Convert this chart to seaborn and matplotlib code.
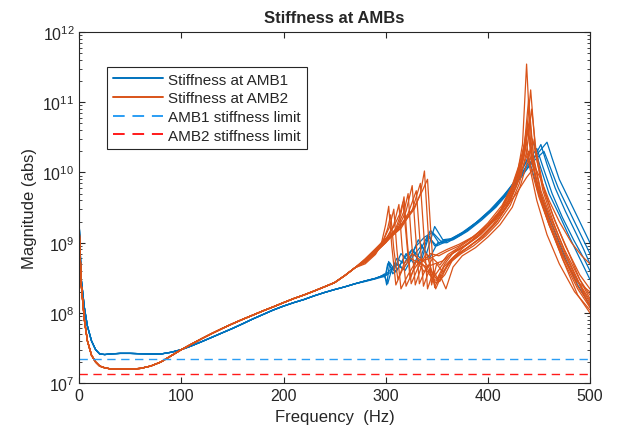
import seaborn as sns
import matplotlib.pyplot as plt

# shared low-frequency part (Hz) and magnitudes
BASE_F = [0, 2, 5, 8, 12, 16, 20, 25, 30, 40, 50, 60, 70, 80, 90, 100, 110, 120, 130, 140,
          150, 160, 170, 180, 190, 200, 210, 220, 230, 240, 250, 260, 270]
AMB1_BASE = [1.8e9, 3e8, 1.2e8, 6.5e7, 4e7, 3e7, 2.6e7, 2.55e7, 2.6e7, 2.65e7, 2.65e7, 2.62e7,
             2.6e7, 2.6e7, 2.75e7, 3.0e7, 3.4e7, 3.9e7, 4.5e7, 5.2e7, 6.0e7, 7.0e7, 8.2e7,
             9.5e7, 1.1e8, 1.25e8, 1.4e8, 1.55e8, 1.75e8, 1.95e8, 2.15e8, 2.35e8, 2.6e8]
AMB2_BASE = [1.5e9, 2.5e8, 8e7, 4e7, 2.5e7, 2e7, 1.75e7, 1.65e7, 1.6e7, 1.58e7, 1.58e7, 1.62e7,
             1.75e7, 2.0e7, 2.45e7, 3.0e7, 3.6e7, 4.3e7, 5.1e7, 6.0e7, 7.0e7, 8.1e7, 9.3e7,
             1.07e8, 1.22e8, 1.4e8, 1.6e8, 1.8e8, 2.05e8, 2.35e8, 2.7e8, 3.4e8, 4.4e8]

# AMB1 runs above 270 Hz
B1_F = [280, 290, 295, 299, 301, 304, 310, 318, 326, 334, 342, 350, 360, 375, 390, 405, 420, 432, 440, 445, 450, 460, 470, 480, 490, 500]
B1_K = [2.85e8, 3.1e8, 3.3e8, 3.6e8, 2.5e8, 5.2e8, 3.8e8, 6e8, 8e8, 5e8, 1.2e9, 9e8, 1.05e9, 1.4e9, 2.0e9, 3.1e9, 5.5e9, 1.0e10, 1.7e10, 2.7e10, 1.4e10, 5e9, 2.5e9, 1.2e9, 6e8, 3e8]
B2_F = [280, 290, 295, 300, 303, 307, 313, 320, 328, 336, 344, 352, 362, 376, 390, 405, 420, 434, 444, 452, 458, 466, 476, 486, 494, 500]
B2_K = [2.85e8, 3.1e8, 3.3e8, 3.4e8, 5.4e8, 3.6e8, 4.5e8, 7e8, 5e8, 9e8, 1.5e9, 1e9, 1.1e9, 1.4e9, 2e9, 3e9, 5.2e9, 9e9, 1.5e10, 2.5e10, 1.3e10, 6e9, 2.8e9, 1.4e9, 8e8, 5e8]
B3_F = [280, 290, 295, 300, 304, 310, 317, 324, 332, 340, 348, 356, 366, 380, 394, 408, 422, 436, 448, 458, 463, 470, 480, 490, 500]
B3_K = [2.85e8, 3.1e8, 3.3e8, 3.5e8, 4e8, 5e8, 4.2e8, 6e8, 1.1e9, 7e8, 1.7e9, 1.1e9, 1.15e9, 1.5e9, 2.2e9, 3.4e9, 6e9, 1.1e10, 1.8e10, 2.7e10, 1.6e10, 8e9, 4e9, 2e9, 1e9]
B4_F = [280, 290, 295, 299, 302, 306, 312, 319, 327, 335, 343, 351, 360, 374, 388, 402, 416, 428, 435, 440, 446, 455, 465, 476, 488, 500]
B4_K = [2.8e8, 3.05e8, 3.2e8, 3.3e8, 2.6e8, 4.2e8, 5e8, 4e8, 6.5e8, 9e8, 6e8, 1e9, 1.0e9, 1.3e9, 1.9e9, 2.9e9, 4.8e9, 8e9, 1.2e10, 1.6e10, 8e9, 3.5e9, 1.5e9, 6e8, 2.5e8, 1.3e8]
B5_F = [280, 290, 295, 300, 305, 311, 318, 326, 334, 342, 348, 356, 366, 380, 394, 408, 422, 434, 442, 448, 454, 463, 473, 484, 494, 500]
B5_K = [2.85e8, 3.1e8, 3.3e8, 3.4e8, 3.8e8, 6e8, 5e8, 8e8, 6e8, 1.3e9, 9e8, 1.05e9, 1.1e9, 1.45e9, 2.1e9, 3.2e9, 5.5e9, 1e10, 1.6e10, 2.2e10, 1.2e10, 5e9, 2.3e9, 1.1e9, 6e8, 4e8]
B6_F = [280, 290, 295, 300, 302, 308, 315, 322, 330, 338, 346, 354, 364, 378, 392, 406, 420, 434, 446, 455, 461, 469, 479, 489, 500]
B6_K = [2.85e8, 3.1e8, 3.3e8, 3.5e8, 5e8, 4e8, 7e8, 5.5e8, 9e8, 1.2e9, 1.4e9, 1.05e9, 1.1e9, 1.45e9, 2.1e9, 3.2e9, 5.5e9, 9.5e9, 1.5e10, 2e10, 1.2e10, 6e9, 3e9, 1.5e9, 7e8]

# AMB2 runs above 270 Hz
O1_F = [280, 290, 296, 300, 303, 306, 310, 316, 324, 334, 344, 352, 360, 372, 385, 400, 415, 425, 432, 437, 442, 450, 460, 475, 490, 500]
O1_K = [5.2e8, 7.0e8, 1.0e9, 1.8e9, 3.3e9, 9e8, 2.5e8, 4e8, 6e8, 5e8, 7e8, 6.5e8, 7.5e8, 9e8, 1.2e9, 1.8e9, 3.2e9, 6e9, 1.2e10, 3.0e10, 1.2e10, 4.5e9, 1.8e9, 6e8, 2.5e8, 1.4e8]
O2_F = [280, 290, 298, 304, 308, 311, 315, 322, 330, 340, 348, 356, 365, 378, 390, 405, 418, 428, 435, 440, 445, 452, 462, 475, 490, 500]
O2_K = [5.5e8, 7.5e8, 1.1e9, 1.7e9, 3.0e9, 8e8, 2.2e8, 3.5e8, 5.5e8, 4.5e8, 5e8, 5.5e8, 7e8, 9e8, 1.2e9, 2e9, 3.5e9, 7e9, 1.8e10, 1.1e11, 1.5e10, 5e9, 2e9, 7e8, 2.5e8, 1.2e8]
O3_F = [280, 290, 300, 308, 313, 316, 320, 327, 335, 342, 350, 358, 367, 380, 393, 407, 420, 428, 434, 438, 442, 448, 458, 470, 485, 500]
O3_K = [5.6e8, 7.8e8, 1.1e9, 1.8e9, 3.5e9, 9e8, 2.4e8, 4e8, 6e8, 4.5e8, 3e8, 5e8, 7.5e8, 9.5e8, 1.3e9, 2.1e9, 4e9, 8e9, 2.5e10, 3.5e11, 2.5e10, 6e9, 2.2e9, 8e8, 3e8, 2e8]
O4_F = [280, 290, 300, 310, 315, 318, 321, 325, 332, 340, 347, 354, 362, 372, 385, 398, 412, 424, 432, 437, 441, 445, 452, 462, 475, 490, 500]
O4_K = [5.3e8, 7.2e8, 1.0e9, 1.6e9, 2.6e9, 4.5e9, 1.1e9, 2.6e8, 4.5e8, 7e8, 3.2e8, 4.5e8, 6.5e8, 8e8, 1.1e9, 1.6e9, 2.8e9, 6e9, 1.3e10, 2.5e10, 6e10, 1.6e10, 5.5e9, 2.2e9, 8e8, 3e8, 1.6e8]
O5_F = [280, 290, 300, 310, 318, 322, 325, 329, 336, 343, 350, 357, 365, 376, 388, 400, 413, 423, 430, 436, 441, 448, 458, 470, 485, 500]
O5_K = [5.4e8, 7.4e8, 1.0e9, 1.5e9, 2.8e9, 5e9, 1.2e9, 2.5e8, 5e8, 3.5e8, 2.6e8, 4.5e8, 6e8, 8.5e8, 1.2e9, 1.7e9, 3e9, 6e9, 1.2e10, 2.5e10, 1.2e10, 4e9, 1.3e9, 5e8, 2e8, 1.1e8]
O6_F = [280, 290, 300, 312, 320, 326, 329, 333, 340, 347, 353, 360, 368, 380, 392, 405, 418, 428, 436, 442, 447, 454, 464, 476, 490, 500]
O6_K = [5.6e8, 7.6e8, 1.05e9, 1.6e9, 2.8e9, 6.5e9, 1.5e9, 2.6e8, 4.5e8, 3e8, 2.8e8, 4.6e8, 6.5e8, 8.5e8, 1.15e9, 1.8e9, 3.3e9, 6.5e9, 1.8e10, 1.5e11, 1.8e10, 5.5e9, 2e9, 7e8, 2.6e8, 1.5e8]
O7_F = [280, 290, 300, 312, 322, 330, 333, 337, 343, 349, 355, 362, 370, 382, 395, 408, 420, 429, 435, 439, 443, 450, 460, 473, 488, 500]
O7_K = [5.5e8, 7.3e8, 1.0e9, 1.5e9, 2.6e9, 5.5e9, 1.4e9, 2.4e8, 4.2e8, 2.2e8, 3.5e8, 5e8, 6.5e8, 9e8, 1.2e9, 1.9e9, 3.5e9, 7e9, 1.6e10, 4e10, 1.5e10, 5e9, 1.8e9, 6e8, 2.2e8, 1.2e8]
O8_F = [280, 290, 300, 315, 326, 334, 337, 341, 347, 352, 358, 365, 374, 386, 398, 410, 422, 431, 438, 443, 447, 454, 464, 476, 490, 500]
O8_K = [5.7e8, 7.7e8, 1.05e9, 1.6e9, 2.9e9, 7e9, 1.6e9, 2.2e8, 4e8, 2.8e8, 3.5e8, 5.5e8, 7e8, 9e8, 1.25e9, 1.9e9, 3.4e9, 7e9, 2e10, 8e10, 2.2e10, 6.5e9, 2.4e9, 9e8, 3.5e8, 2.2e8]
O9_F = [280, 290, 300, 315, 328, 334, 338, 341, 345, 350, 356, 363, 371, 383, 396, 409, 421, 430, 436, 440, 445, 452, 462, 474, 488, 500]
O9_K = [5.8e8, 8e8, 1.1e9, 1.7e9, 3e9, 5e9, 1.05e10, 2e9, 2.5e8, 5e8, 3.8e8, 5.5e8, 7e8, 9e8, 1.3e9, 2e9, 3.6e9, 7.5e9, 1.4e10, 2e10, 1.1e10, 4.5e9, 1.6e9, 5.5e8, 1.8e8, 1e8]
O10_F = [280, 290, 297, 302, 305, 308, 312, 318, 326, 335, 344, 352, 360, 372, 385, 400, 415, 428, 438, 446, 452, 460, 470, 482, 492, 500]
O10_K = [5e8, 6.8e8, 1.0e9, 1.6e9, 2.5e9, 8e8, 3e8, 5e8, 7e8, 5.5e8, 6e8, 7e8, 8e8, 9.5e8, 1.2e9, 1.7e9, 2.8e9, 5e9, 8.5e9, 1.2e10, 8e9, 4e9, 2e9, 1e9, 6.5e8, 5e8]
O11_F = [280, 290, 300, 308, 314, 317, 320, 324, 330, 338, 346, 353, 361, 373, 386, 400, 414, 425, 433, 439, 444, 451, 461, 474, 488, 500]
O11_K = [5.4e8, 7.6e8, 1.1e9, 1.7e9, 2.6e9, 3.8e9, 1.3e9, 3e8, 5.5e8, 3.8e8, 6e8, 4.8e8, 6.8e8, 8.8e8, 1.2e9, 1.9e9, 3.4e9, 7e9, 1.5e10, 5e10, 1.4e10, 5e9, 1.9e9, 6.5e8, 2.4e8, 1.3e8]
O12_F = [280, 290, 300, 315, 328, 336, 341, 344, 348, 353, 359, 366, 375, 388, 400, 412, 424, 432, 438, 444, 449, 456, 466, 478, 490, 500]
O12_K = [5.9e8, 8.2e8, 1.15e9, 1.8e9, 3.2e9, 5.5e9, 8e9, 1.6e9, 2.3e8, 3.5e8, 2.2e8, 4.5e8, 6.5e8, 8.5e8, 1.2e9, 1.8e9, 3.2e9, 6.5e9, 1.3e10, 3e10, 1.3e10, 5e9, 2e9, 8e8, 3e8, 1.8e8]

AMB1_LIMIT = 2.2e7
AMB2_LIMIT = 1.36e7

BLUE = '#0072BD'
ORANGE = '#D95319'

sns.set_style("ticks")
plt.rcParams['font.family'] = ['Liberation Sans', 'DejaVu Sans']

fig, ax = plt.subplots(figsize=(6.19, 4.35), dpi=100)
fig.subplots_adjust(left=0.128, right=0.953, bottom=0.117, top=0.924)

amb1 = [(B1_F, B1_K), (B2_F, B2_K), (B3_F, B3_K), (B4_F, B4_K), (B5_F, B5_K), (B6_F, B6_K)]
amb2 = [(O1_F, O1_K), (O2_F, O2_K), (O3_F, O3_K), (O4_F, O4_K), (O5_F, O5_K), (O6_F, O6_K),
        (O7_F, O7_K), (O8_F, O8_K), (O9_F, O9_K), (O10_F, O10_K), (O11_F, O11_K), (O12_F, O12_K)]

for i, (f, k) in enumerate(amb1):
    sns.lineplot(x=BASE_F + f, y=AMB1_BASE + k, color=BLUE, lw=0.9, estimator=None, ax=ax,
                 label='Stiffness at AMB1' if i == 0 else None)
for i, (f, k) in enumerate(amb2):
    sns.lineplot(x=BASE_F + f, y=AMB2_BASE + k, color=ORANGE, lw=0.9, estimator=None, ax=ax,
                 label='Stiffness at AMB2' if i == 0 else None)

ax.axhline(AMB1_LIMIT, color='#2A9DF4', lw=1.0, ls=(0, (6, 4)), label='AMB1 stiffness limit')
ax.axhline(AMB2_LIMIT, color='#FF1A1A', lw=1.0, ls=(0, (6, 4)), label='AMB2 stiffness limit')

ax.set_yscale('log')
ax.set_xlim(0, 500)
ax.set_ylim(1e7, 1e12)
ax.set_xticks([0, 100, 200, 300, 400, 500])
ax.tick_params(direction='in', top=True, right=True, which='both', labelsize=11.5, colors='#262626')
ax.tick_params(which='major', length=4)
ax.tick_params(which='minor', length=2)
for s in ax.spines.values():
    s.set_color('#262626')
    s.set_linewidth(0.8)

ax.set_title('Stiffness at AMBs', fontsize=12, fontweight='bold', pad=7)
ax.set_xlabel('Frequency  (Hz)', fontsize=12)
ax.set_ylabel('Magnitude (abs)', fontsize=12)

leg = ax.legend(loc='upper left', bbox_to_anchor=(0.039, 0.923), fontsize=11, fancybox=False,
                framealpha=1, edgecolor='#262626', handlelength=3.3, handletextpad=0.3,
                borderpad=0.4, labelspacing=0.3)
leg.get_frame().set_linewidth(0.8)
for line in leg.get_lines():
    line.set_linewidth(1.4)

plt.savefig('out.png', dpi=100)
